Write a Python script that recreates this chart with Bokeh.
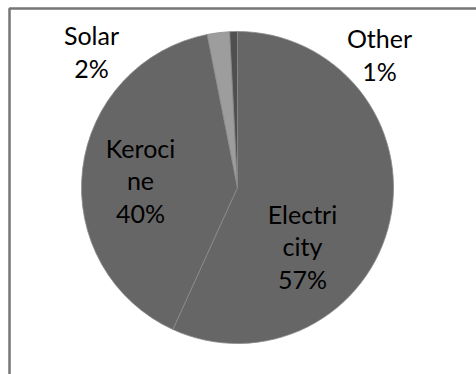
import math
from bokeh.plotting import figure
from bokeh.models import Range1d, ColumnDataSource
from bokeh.core.properties import value
from bokeh.embed import file_html
from bokeh.resources import INLINE

# ---- data ----
categories = ["Electricity", "Kerocine", "Solar", "Other"]
shares = [56.8, 40.1, 2.3, 0.8]
label_names = ["Electri\ncity", "Keroci\nne", "Solar", "Other"]

# ---- styles / layout ----
colors = ["#666666", "#666666", "#9d9d9d", "#4f4f4f"]
W, H = 476, 374
cx, cy, R = 237, H - 187, 156
# label block offsets from the pie centre (pixels, y up)
label_offsets = [(65, -59), (-97, 7), (-146, 136), (142, 133)]

total = sum(shares)
starts, ends = [], []
acc = 0.0
for s in shares:
    t1 = acc / total * 2 * math.pi
    acc += s
    t2 = acc / total * 2 * math.pi
    # clockwise from 12 o'clock -> bokeh counter-clockwise from +x
    starts.append(math.pi / 2 - t2)
    ends.append(math.pi / 2 - t1)

src = ColumnDataSource(dict(
    x=[cx] * len(shares), y=[cy] * len(shares),
    start=starts, end=ends, color=colors,
))

p = figure(width=W, height=H, output_backend="svg", toolbar_location=None,
           x_range=Range1d(0, W), y_range=Range1d(0, H), min_border=0)
p.axis.visible = False
p.grid.visible = False
p.outline_line_color = None
p.background_fill_color = "white"
p.border_fill_color = "white"

# outer chart border (extends beyond right/bottom edges as in the reference)
p.quad(left=[9], right=[W + 20], bottom=[-20], top=[H - 8],
       fill_color=None, line_color="#767676", line_width=2.5)

p.wedge(x="x", y="y", radius=R, start_angle="start", end_angle="end",
        fill_color="color", line_color="#8a8a8a", line_width=0.8, source=src)

texts = [f"{n}\n{round(s / total * 100)}%" for n, s in zip(label_names, shares)]
lx = [cx + o[0] for o in label_offsets]
ly = [cy + o[1] for o in label_offsets]
p.text(x=lx, y=ly, text=texts, text_align="center", text_baseline="middle",
       text_font=value("Lato"), text_font_size="25px",
       text_color="#000000", text_line_height=1.08)

open("out.html", "w").write(file_html(p, INLINE))
